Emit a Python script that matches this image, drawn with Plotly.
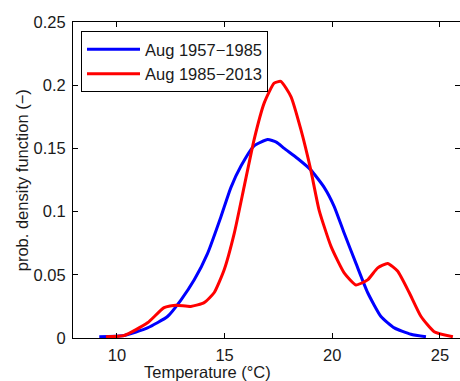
import plotly.graph_objects as go

# Blue: Aug 1957-1985
temp_blue = [9.18, 10.34, 11.42, 12.35, 12.97, 13.59, 14.21, 14.83, 15.29, 15.76, 16.37, 17.0,
             17.4, 17.77, 18.39, 19.0, 19.63, 20.09, 20.55, 21.10, 21.64, 22.26, 22.88, 23.65, 24.35]
pdf_blue = [0.001, 0.002, 0.008, 0.017, 0.030, 0.046, 0.067, 0.096, 0.119, 0.136, 0.152, 0.157,
            0.155, 0.150, 0.142, 0.133, 0.119, 0.104, 0.083, 0.059, 0.036, 0.017, 0.008, 0.003, 0.001]

# Red: Aug 1985-2013
temp_red = [9.49, 10.34, 11.42, 12.19, 12.74, 13.43, 14.05, 14.52, 14.98, 15.45, 15.91, 16.37,
            16.84, 17.30, 17.61, 18.08, 18.54, 19.0, 19.39, 19.94, 20.55, 21.10, 21.64, 22.11,
            22.57, 23.03, 23.57, 24.12, 24.73, 25.6]
pdf_red = [0.001, 0.002, 0.012, 0.024, 0.026, 0.025, 0.028, 0.036, 0.054, 0.083, 0.120, 0.157,
           0.186, 0.2016, 0.203, 0.191, 0.165, 0.133, 0.101, 0.0725, 0.0515, 0.042, 0.046, 0.0555,
           0.059, 0.053, 0.036, 0.017, 0.005, 0.001]

x_ticks = [10, 15, 20, 25]
y_ticks = [0, 0.05, 0.1, 0.15, 0.2, 0.25]
y_tick_labels = ["0", "0.05", "0.1", "0.15", "0.2", "0.25"]

FONT = "Liberation Sans, Arial, Helvetica, sans-serif"
TXT = "#1a1a1a"
FS = 16.5
W, H = 460, 381
L, R, T, B = 73, 0, 22, 42.5
PW, PH = W - L - R, H - T - B


def ax_x(px):
    return (px - L) / PW


def ax_y(py):
    return (H - B - py) / PH


fig = go.Figure()
fig.add_trace(go.Scatter(x=temp_blue, y=pdf_blue, mode="lines", name="Aug 1957\u22121985",
                         line=dict(color="#0000FF", width=3, shape="spline", smoothing=0.5)))
fig.add_trace(go.Scatter(x=temp_red, y=pdf_red, mode="lines", name="Aug 1985\u22122013",
                         line=dict(color="#FF0000", width=3, shape="spline", smoothing=0.5)))

fig.update_layout(
    width=W, height=H,
    margin=dict(l=L, r=R, t=T, b=B, autoexpand=False),
    paper_bgcolor="white", plot_bgcolor="white",
    font=dict(family=FONT, size=FS, color=TXT),
    showlegend=True,
    legend=dict(x=ax_x(81), y=ax_y(31), xanchor="left", yanchor="top",
                bgcolor="white", bordercolor="black", borderwidth=1,
                font=dict(size=FS, color=TXT), itemwidth=53,
                tracegroupgap=0),
    xaxis=dict(range=[7.96, 25.93], tickvals=x_ticks, ticks="inside", ticklen=5,
               tickcolor="black", showline=True, linecolor="black", linewidth=1,
               mirror="ticks", showgrid=False, zeroline=False, automargin=False,
               tickfont=dict(size=FS, color=TXT), ticklabelstandoff=2),
    yaxis=dict(range=[0, 0.25], tickvals=y_ticks, ticktext=y_tick_labels, ticks="inside",
               ticklen=5, tickcolor="black", showline=True, linecolor="black", linewidth=1,
               mirror="ticks", showgrid=False, zeroline=False, automargin=False,
               tickfont=dict(size=FS, color=TXT), ticklabelstandoff=3),
    annotations=[
        dict(text="Temperature (°C)", x=ax_x(207.5), y=ax_y(373), xref="paper", yref="paper",
             xanchor="center", yanchor="middle", showarrow=False,
             font=dict(size=FS, color=TXT)),
        dict(text="prob. density function (\u2212)", x=ax_x(21.5), y=ax_y(181),
             xref="paper", yref="paper", xanchor="center", yanchor="middle", showarrow=False,
             textangle=-90, font=dict(size=FS, color=TXT)),
    ],
)

fig.write_html("out.html", config={"displayModeBar": False})
with open("out.html", "r", encoding="utf-8") as f:
    html = f.read()
html = html.replace("<head>", "<head><style>html,body{margin:0;padding:0;overflow:hidden;}</style>", 1)
with open("out.html", "w", encoding="utf-8") as f:
    f.write(html)
